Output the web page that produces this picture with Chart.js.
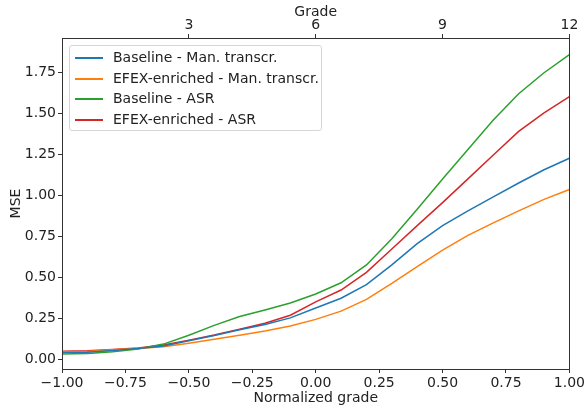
<!DOCTYPE html>
<html>
<head>
<meta charset="utf-8">
<script src="https://cdn.jsdelivr.net/npm/chart.js@4/dist/chart.umd.min.js"></script>
<style>
  html,body{margin:0;padding:0;background:#fff;}
  #wrap{position:relative;width:587px;height:407px;}
  #legend{position:absolute;left:69px;top:45px;width:253px;height:86px;box-sizing:border-box;
    border:1px solid #d6d6d6;border-radius:3px;background:rgba(255,255,255,0.85);
    font-family:"DejaVu Sans",sans-serif;font-size:14px;color:#222;padding-top:1px;}
  #legend .row{height:20.5px;line-height:20.5px;position:relative;white-space:nowrap;}
  #legend .sw{position:absolute;left:5px;top:10px;width:28px;height:0;border-top:2px solid;}
  #legend .tx{position:absolute;left:43px;top:0;}
</style>
</head>
<body>
<div id="wrap">
  <canvas id="c" width="587" height="407"></canvas>
  <div id="legend"></div>
</div>
<script>
// x positions (normalized grade)
const xVals = [-1.0,-0.9,-0.8,-0.7,-0.6,-0.5,-0.4,-0.3,-0.2,-0.1,0.0,0.1,0.2,0.3,0.4,0.5,0.6,0.7,0.8,0.9,1.0];

const baselineMan = [0.040,0.042,0.053,0.065,0.080,0.112,0.145,0.180,0.212,0.252,0.312,0.372,0.455,0.575,0.705,0.815,0.905,0.990,1.075,1.156,1.226];
const efexMan     = [0.045,0.047,0.057,0.065,0.076,0.097,0.121,0.146,0.172,0.202,0.243,0.293,0.365,0.462,0.565,0.665,0.755,0.832,0.905,0.975,1.035];
const baselineAsr = [0.032,0.034,0.045,0.062,0.092,0.146,0.206,0.260,0.300,0.343,0.398,0.466,0.575,0.735,0.915,1.100,1.280,1.460,1.620,1.748,1.858];
const efexAsr     = [0.049,0.051,0.059,0.068,0.086,0.116,0.147,0.182,0.219,0.268,0.350,0.422,0.530,0.672,0.815,0.955,1.100,1.246,1.390,1.503,1.602];

const seriesNames = ['Baseline - Man. transcr.','EFEX-enriched - Man. transcr.','Baseline - ASR','EFEX-enriched - ASR'];
const seriesColors = ['#1f77b4','#ff7f0e','#2ca02c','#d62728'];

const yTicks = [0,0.25,0.5,0.75,1.0,1.25,1.5,1.75];
const xTicks = [-1,-0.75,-0.5,-0.25,0,0.25,0.5,0.75,1];
const gradeTicks = [3,6,9,12];

const FONT = {family:'"DejaVu Sans", sans-serif', size:14};
const INK = '#222';

const allSeries = [baselineMan, efexMan, baselineAsr, efexAsr];
const datasets = allSeries.map((s,i)=>({
  label: seriesNames[i],
  data: s.map((v,j)=>({x:xVals[j], y:v})),
  borderColor: seriesColors[i],
  backgroundColor: seriesColors[i],
  borderWidth: 1.5,
  pointRadius: 0,
  tension: 0,
  fill: false,
  xAxisID: 'x', yAxisID: 'y'
}));

// axes frame (matplotlib spines)
const frame = {
  id:'frame',
  afterDatasetsDraw(chart){
    const a = chart.chartArea, ctx = chart.ctx;
    ctx.save();
    ctx.strokeStyle = '#333';
    ctx.lineWidth = 1;
    ctx.strokeRect(Math.round(a.left)+0.5, Math.round(a.top)+0.5, Math.round(a.right-a.left), Math.round(a.bottom-a.top));
    ctx.restore();
  }
};

const tickGrid = {display:true, drawOnChartArea:false, drawTicks:true, tickLength:4, tickColor:'#333'};

new Chart(document.getElementById('c'), {
  type:'line',
  data:{ datasets },
  options:{
    responsive:false, animation:false,
    layout:{padding:{left:0,right:16,top:0,bottom:0}},
    plugins:{ legend:{display:false}, tooltip:{enabled:false} },
    scales:{
      x:{
        type:'linear', position:'bottom', min:-1, max:1,
        afterBuildTicks:(ax)=>{ ax.ticks = xTicks.map(v=>({value:v})); },
        afterFit:(ax)=>{ ax.height = 38; },
        ticks:{ font:FONT, color:INK, padding:2, maxRotation:0, autoSkip:false,
          callback:(v)=> v.toFixed(2).replace('-','\u2212') },
        grid:tickGrid,
        border:{display:true, color:'#333'},
        title:{display:true, text:'Normalized grade', font:FONT, color:INK, padding:{top:0,bottom:0}}
      },
      x2:{
        type:'linear', position:'top', min:0, max:12,
        afterBuildTicks:(ax)=>{ ax.ticks = gradeTicks.map(v=>({value:v})); },
        afterFit:(ax)=>{ ax.height = 38; },
        ticks:{ font:FONT, color:INK, padding:0, maxRotation:0, autoSkip:false },
        grid:tickGrid,
        border:{display:true, color:'#333'},
        title:{display:true, text:'Grade', font:FONT, color:INK, padding:{top:4,bottom:0}}
      },
      y:{
        type:'linear', position:'left', min:-0.06, max:1.96,
        afterBuildTicks:(ax)=>{ ax.ticks = yTicks.map(v=>({value:v})); },
        afterFit:(ax)=>{ ax.width = 62; },
        ticks:{ font:FONT, color:INK, padding:2, callback:(v)=> v.toFixed(2) },
        grid:tickGrid,
        border:{display:true, color:'#333'},
        title:{display:true, text:'MSE', font:FONT, color:INK, padding:{top:8,bottom:0}}
      }
    }
  },
  plugins:[frame]
});

document.getElementById('legend').innerHTML = seriesNames.map((n,i)=>
  `<div class="row"><span class="sw" style="border-color:${seriesColors[i]}"></span><span class="tx">${n}</span></div>`
).join('');
</script>
</body>
</html>
